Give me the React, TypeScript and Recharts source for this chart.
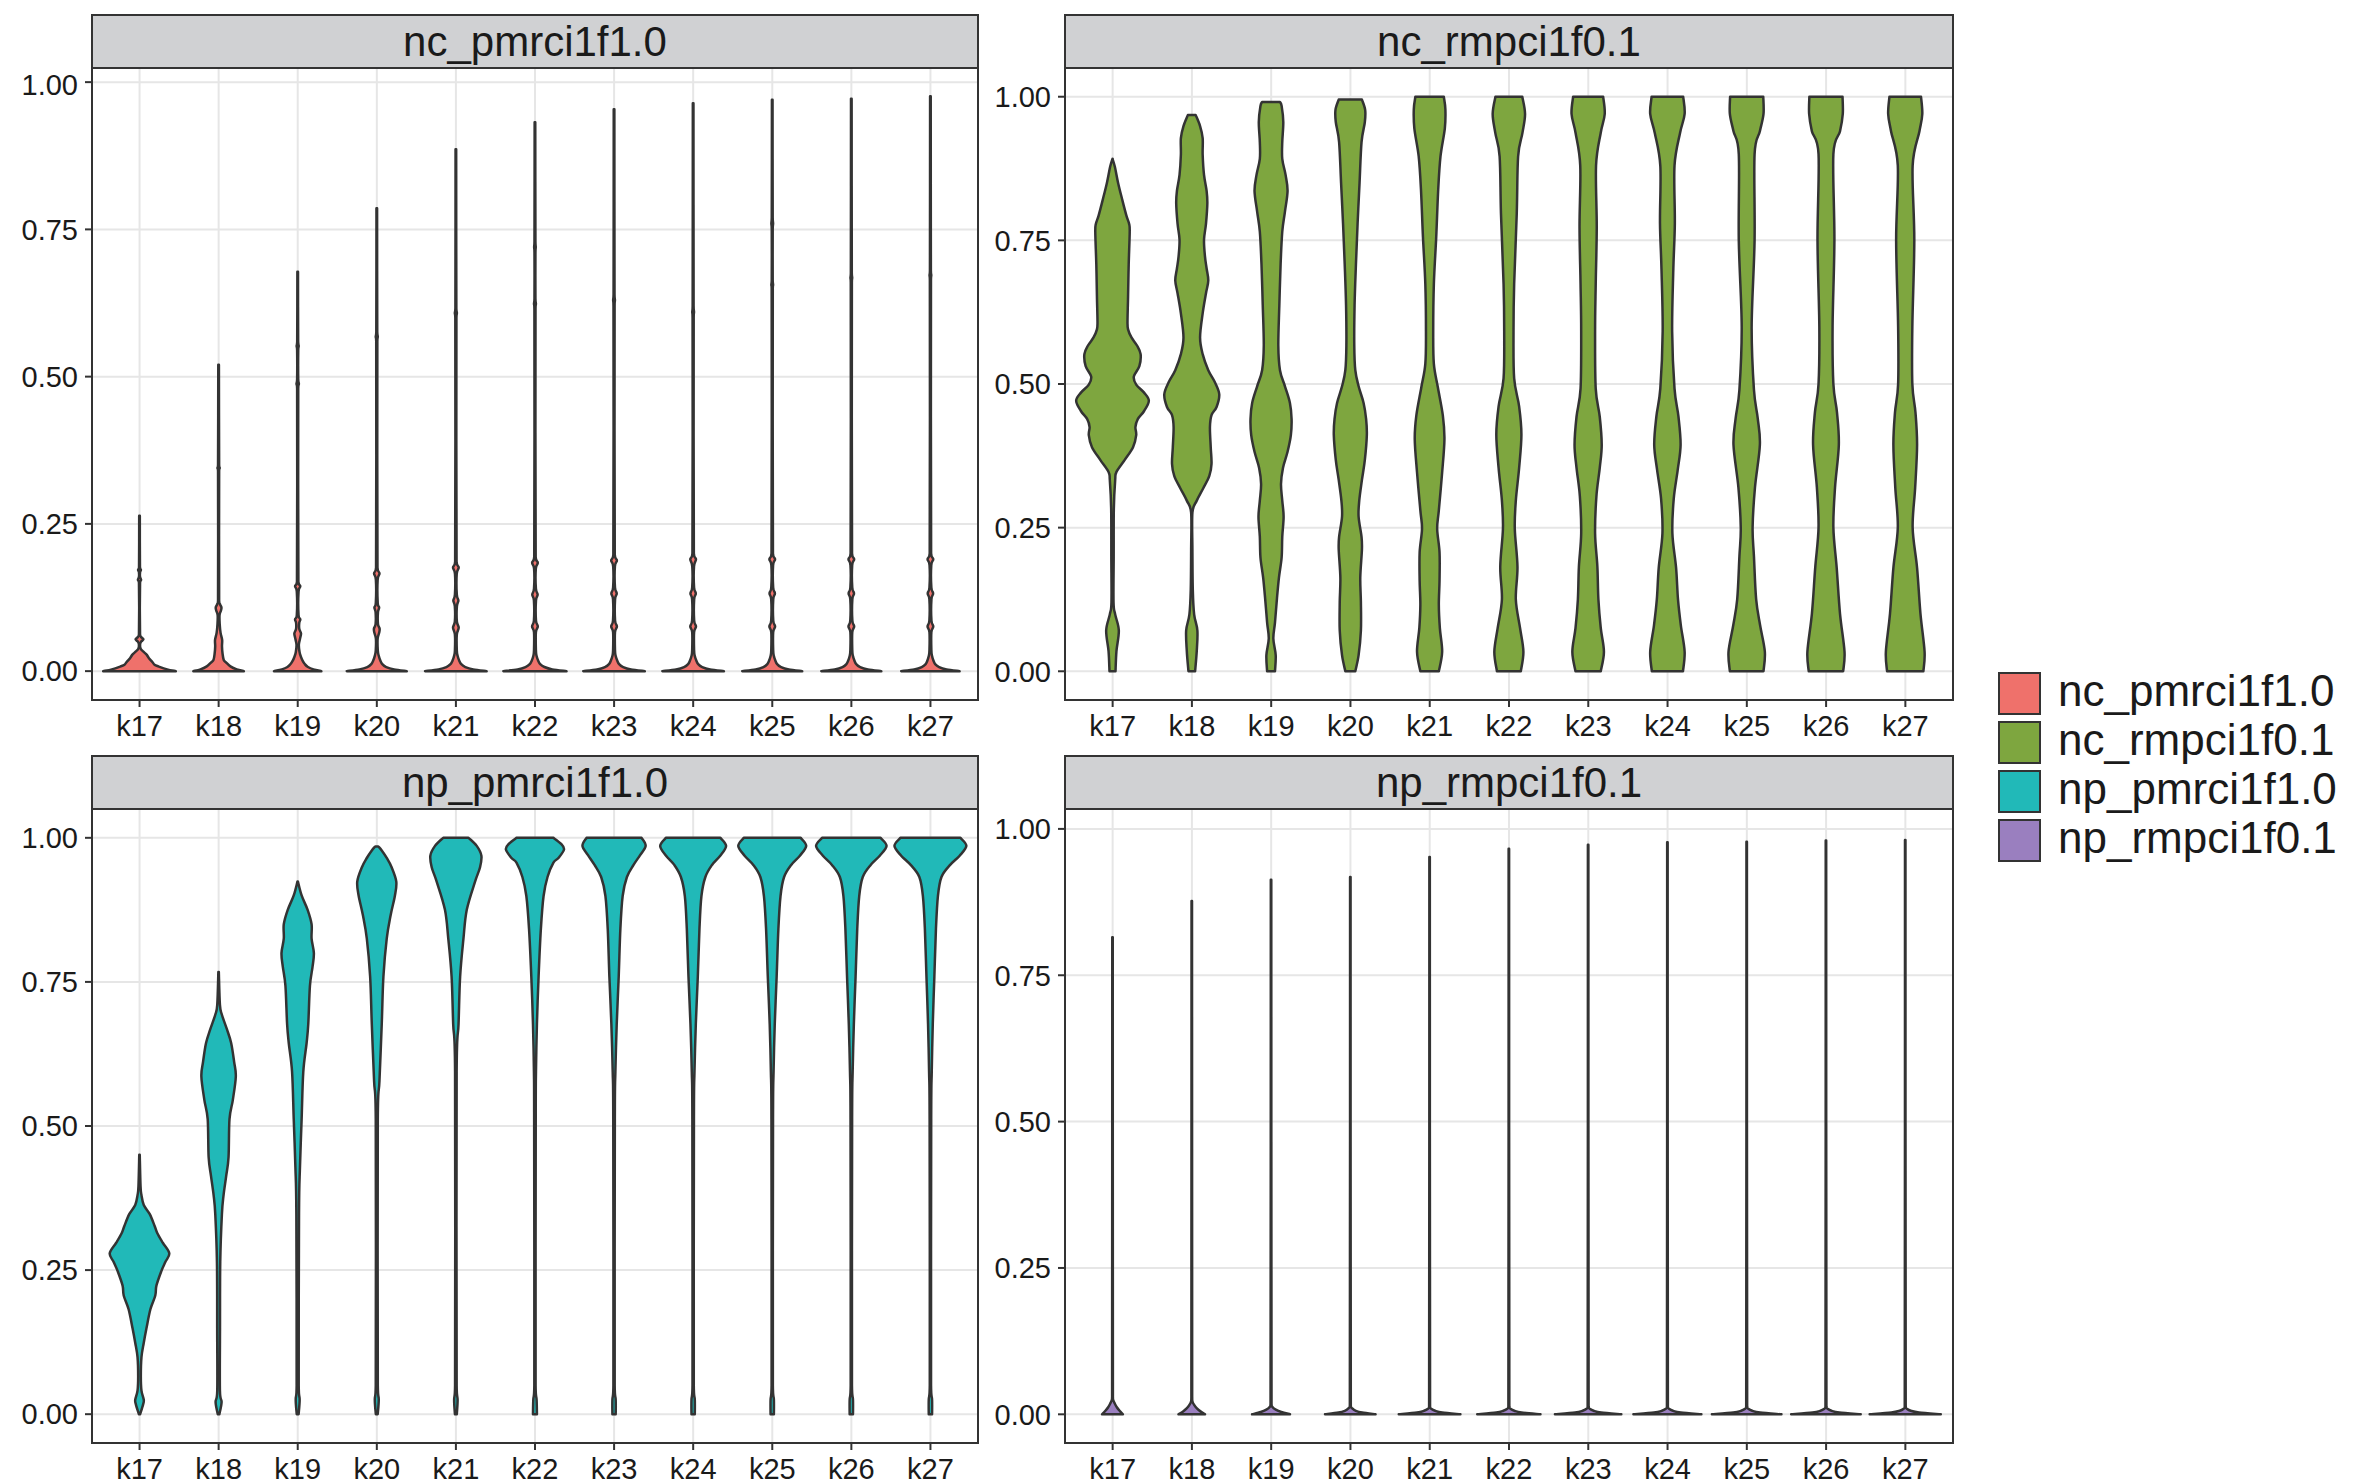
import React from 'react';
import { BarChart, Bar, XAxis, YAxis, CartesianGrid } from 'recharts';

type Profile = [number, number][];

const categories = ['k17', 'k18', 'k19', 'k20', 'k21', 'k22', 'k23', 'k24', 'k25', 'k26', 'k27'];
const yTicks = [0, 0.25, 0.5, 0.75, 1];
const minorTicks = [0.125, 0.375, 0.625, 0.875];
const panelTitles = ['nc_pmrci1f1.0', 'nc_rmpci1f0.1', 'np_pmrci1f1.0', 'np_rmpci1f0.1'];
const legendLabels = ['nc_pmrci1f1.0', 'nc_rmpci1f0.1', 'np_pmrci1f1.0', 'np_rmpci1f0.1'];

// density profiles: [value, half width in category units]
const ncPmrciProfiles: Profile[] = [
  [[0,0.46],[0.003,0.35],[0.008,0.24],[0.011,0.19],[0.016,0.16],[0.022,0.12],[0.028,0.09],[0.033,0.05],[0.038,0.015],[0.045,0.007],[0.05,0.02],[0.054,0.05],[0.058,0.02],[0.063,0.007],[0.15,0.007],[0.155,0.02],[0.16,0.007],[0.168,0.007],[0.172,0.018],[0.176,0.006],[0.264,0.004]],
  [[0,0.32],[0.003,0.23],[0.008,0.15],[0.014,0.1],[0.019,0.065],[0.03,0.05],[0.042,0.043],[0.053,0.045],[0.065,0.025],[0.08,0.014],[0.095,0.012],[0.103,0.03],[0.108,0.036],[0.113,0.02],[0.12,0.007],[0.34,0.007],[0.345,0.014],[0.35,0.007],[0.52,0.004]],
  [[0,0.3],[0.003,0.2],[0.007,0.13],[0.012,0.09],[0.018,0.062],[0.024,0.042],[0.032,0.024],[0.045,0.015],[0.057,0.033],[0.064,0.042],[0.072,0.02],[0.082,0.02],[0.088,0.033],[0.095,0.011],[0.135,0.011],[0.144,0.033],[0.152,0.009],[0.48,0.007],[0.488,0.015],[0.496,0.007],[0.545,0.007],[0.552,0.013],[0.56,0.006],[0.678,0.004]],
  [[0,0.38],[0.003,0.22],[0.007,0.12],[0.012,0.07],[0.018,0.045],[0.026,0.025],[0.035,0.013],[0.055,0.011],[0.065,0.03],[0.072,0.036],[0.08,0.015],[0.1,0.015],[0.108,0.03],[0.116,0.012],[0.155,0.011],[0.166,0.034],[0.176,0.009],[0.56,0.007],[0.568,0.013],[0.576,0.006],[0.786,0.004]],
  [[0,0.39],[0.003,0.22],[0.007,0.12],[0.012,0.068],[0.018,0.042],[0.026,0.022],[0.035,0.012],[0.062,0.012],[0.074,0.036],[0.084,0.013],[0.11,0.013],[0.12,0.032],[0.13,0.012],[0.165,0.011],[0.176,0.036],[0.186,0.009],[0.6,0.007],[0.608,0.013],[0.616,0.006],[0.886,0.004]],
  [[0,0.4],[0.003,0.22],[0.007,0.12],[0.012,0.066],[0.018,0.04],[0.026,0.02],[0.036,0.012],[0.066,0.012],[0.076,0.036],[0.086,0.013],[0.12,0.013],[0.13,0.034],[0.14,0.012],[0.174,0.011],[0.184,0.036],[0.194,0.009],[0.615,0.007],[0.624,0.012],[0.633,0.006],[0.71,0.006],[0.72,0.01],[0.73,0.006],[0.932,0.004]],
  [[0,0.39],[0.003,0.215],[0.007,0.115],[0.012,0.064],[0.018,0.04],[0.026,0.02],[0.036,0.012],[0.066,0.012],[0.076,0.036],[0.086,0.013],[0.122,0.013],[0.132,0.034],[0.142,0.012],[0.178,0.011],[0.188,0.036],[0.198,0.009],[0.62,0.007],[0.63,0.011],[0.64,0.006],[0.954,0.004]],
  [[0,0.39],[0.003,0.215],[0.007,0.115],[0.012,0.064],[0.018,0.04],[0.026,0.02],[0.036,0.012],[0.066,0.012],[0.076,0.036],[0.086,0.013],[0.122,0.013],[0.132,0.034],[0.142,0.012],[0.178,0.011],[0.19,0.036],[0.2,0.009],[0.6,0.007],[0.61,0.011],[0.62,0.006],[0.964,0.004]],
  [[0,0.38],[0.003,0.21],[0.007,0.112],[0.012,0.062],[0.018,0.039],[0.026,0.02],[0.036,0.012],[0.066,0.012],[0.076,0.036],[0.086,0.013],[0.122,0.013],[0.132,0.034],[0.142,0.012],[0.18,0.011],[0.19,0.036],[0.2,0.009],[0.65,0.007],[0.656,0.011],[0.664,0.006],[0.75,0.006],[0.76,0.011],[0.77,0.006],[0.97,0.004]],
  [[0,0.38],[0.003,0.21],[0.007,0.112],[0.012,0.062],[0.018,0.039],[0.026,0.02],[0.036,0.012],[0.066,0.012],[0.076,0.036],[0.086,0.013],[0.122,0.013],[0.132,0.034],[0.142,0.012],[0.18,0.011],[0.19,0.036],[0.2,0.009],[0.66,0.007],[0.668,0.011],[0.676,0.006],[0.972,0.004]],
  [[0,0.37],[0.003,0.205],[0.007,0.11],[0.012,0.06],[0.018,0.038],[0.026,0.02],[0.036,0.012],[0.066,0.012],[0.076,0.036],[0.086,0.013],[0.122,0.013],[0.132,0.034],[0.142,0.012],[0.18,0.011],[0.19,0.036],[0.2,0.009],[0.664,0.007],[0.672,0.011],[0.68,0.006],[0.976,0.004]],
];

const ncRmpciProfiles: Profile[] = [
  [[0,0.038],[0.035,0.05],[0.071,0.08],[0.099,0.034],[0.12,0.013],[0.2,0.015],[0.283,0.017],[0.333,0.034],[0.347,0.05],[0.368,0.155],[0.39,0.26],[0.411,0.3],[0.425,0.29],[0.439,0.32],[0.453,0.4],[0.471,0.46],[0.485,0.4],[0.499,0.3],[0.513,0.27],[0.531,0.34],[0.552,0.356],[0.567,0.31],[0.581,0.24],[0.595,0.197],[0.609,0.19],[0.652,0.197],[0.708,0.205],[0.765,0.218],[0.779,0.21],[0.793,0.176],[0.822,0.121],[0.85,0.071],[0.878,0.03],[0.892,0]],
  [[0,0.042],[0.035,0.063],[0.071,0.071],[0.099,0.03],[0.142,0.013],[0.212,0.008],[0.276,0.008],[0.297,0.063],[0.319,0.147],[0.34,0.222],[0.361,0.25],[0.39,0.24],[0.425,0.23],[0.446,0.25],[0.46,0.314],[0.482,0.348],[0.503,0.293],[0.524,0.209],[0.552,0.138],[0.581,0.105],[0.623,0.138],[0.658,0.18],[0.68,0.209],[0.701,0.188],[0.722,0.167],[0.751,0.155],[0.779,0.18],[0.814,0.197],[0.836,0.188],[0.864,0.155],[0.899,0.138],[0.928,0.138],[0.949,0.105],[0.968,0.05]],
  [[0,0.05],[0.028,0.059],[0.057,0.029],[0.085,0.05],[0.127,0.075],[0.163,0.1],[0.198,0.134],[0.234,0.142],[0.269,0.159],[0.297,0.142],[0.326,0.126],[0.354,0.151],[0.382,0.209],[0.411,0.251],[0.439,0.26],[0.467,0.239],[0.496,0.176],[0.524,0.113],[0.567,0.092],[0.637,0.105],[0.708,0.121],[0.765,0.142],[0.8,0.176],[0.836,0.209],[0.864,0.184],[0.892,0.142],[0.921,0.142],[0.956,0.155],[0.984,0.134],[0.991,0.113]],
  [[0,0.063],[0.028,0.105],[0.071,0.134],[0.12,0.134],[0.163,0.126],[0.212,0.147],[0.234,0.142],[0.269,0.105],[0.297,0.113],[0.333,0.147],[0.368,0.184],[0.411,0.209],[0.439,0.2],[0.467,0.168],[0.496,0.105],[0.524,0.063],[0.567,0.05],[0.637,0.054],[0.708,0.071],[0.779,0.092],[0.85,0.117],[0.921,0.142],[0.956,0.184],[0.977,0.188],[0.995,0.147]],
  [[0,0.117],[0.034,0.159],[0.075,0.13],[0.116,0.117],[0.158,0.126],[0.207,0.126],[0.248,0.096],[0.28,0.117],[0.346,0.159],[0.404,0.188],[0.445,0.168],[0.494,0.105],[0.535,0.054],[0.592,0.046],[0.674,0.054],[0.756,0.084],[0.838,0.109],[0.896,0.138],[0.945,0.193],[0.978,0.2],[1.0,0.18]],
  [[0,0.151],[0.034,0.184],[0.075,0.142],[0.125,0.088],[0.182,0.109],[0.248,0.075],[0.297,0.088],[0.354,0.13],[0.412,0.159],[0.461,0.13],[0.51,0.067],[0.592,0.059],[0.674,0.067],[0.797,0.1],[0.896,0.117],[0.937,0.172],[0.97,0.205],[1.0,0.17]],
  [[0,0.16],[0.034,0.2],[0.075,0.16],[0.125,0.13],[0.182,0.117],[0.24,0.088],[0.305,0.105],[0.354,0.147],[0.394,0.172],[0.443,0.147],[0.492,0.096],[0.592,0.088],[0.674,0.096],[0.773,0.109],[0.88,0.1],[0.937,0.159],[0.97,0.21],[1.0,0.19]],
  [[0,0.197],[0.034,0.218],[0.08,0.17],[0.125,0.134],[0.18,0.11],[0.24,0.063],[0.3,0.08],[0.35,0.13],[0.394,0.167],[0.443,0.14],[0.492,0.09],[0.592,0.06],[0.7,0.075],[0.78,0.094],[0.88,0.09],[0.937,0.16],[0.97,0.218],[1.0,0.2]],
  [[0,0.213],[0.034,0.23],[0.08,0.17],[0.125,0.12],[0.2,0.092],[0.25,0.075],[0.32,0.105],[0.394,0.167],[0.44,0.14],[0.49,0.092],[0.6,0.063],[0.75,0.1],[0.9,0.1],[0.94,0.167],[0.97,0.213],[1.0,0.21]],
  [[0,0.218],[0.034,0.235],[0.1,0.178],[0.18,0.136],[0.25,0.094],[0.32,0.115],[0.394,0.163],[0.45,0.14],[0.5,0.094],[0.6,0.084],[0.75,0.107],[0.9,0.094],[0.94,0.178],[0.97,0.213],[1.0,0.21]],
  [[0,0.23],[0.034,0.245],[0.1,0.193],[0.18,0.15],[0.25,0.094],[0.32,0.126],[0.394,0.15],[0.45,0.13],[0.5,0.09],[0.6,0.09],[0.75,0.115],[0.88,0.094],[0.94,0.18],[0.97,0.216],[1.0,0.2]],
];

const npPmrciProfiles: Profile[] = [
  [[0,0.008],[0.017,0.046],[0.025,0.054],[0.041,0.025],[0.066,0.017],[0.099,0.025],[0.124,0.054],[0.149,0.088],[0.182,0.138],[0.206,0.2],[0.223,0.214],[0.248,0.276],[0.264,0.327],[0.279,0.377],[0.297,0.297],[0.314,0.226],[0.326,0.193],[0.347,0.13],[0.363,0.054],[0.38,0.025],[0.396,0.013],[0.45,0.003]],
  [[0,0.01],[0.021,0.038],[0.041,0.017],[0.15,0.018],[0.264,0.021],[0.347,0.042],[0.38,0.063],[0.413,0.096],[0.446,0.126],[0.512,0.138],[0.545,0.18],[0.586,0.218],[0.611,0.197],[0.644,0.159],[0.668,0.105],[0.693,0.042],[0.71,0.017],[0.767,0.003]],
  [[0,0.012],[0.025,0.025],[0.05,0.013],[0.347,0.017],[0.429,0.029],[0.512,0.05],[0.594,0.071],[0.644,0.113],[0.677,0.134],[0.743,0.155],[0.776,0.188],[0.8,0.205],[0.825,0.176],[0.85,0.176],[0.875,0.126],[0.9,0.05],[0.924,0.003]],
  [[0,0.012],[0.025,0.025],[0.05,0.013],[0.512,0.013],[0.578,0.034],[0.677,0.063],[0.759,0.084],[0.825,0.126],[0.866,0.176],[0.9,0.23],[0.924,0.247],[0.949,0.188],[0.965,0.126],[0.978,0.063],[0.985,0.02]],
  [[0,0.012],[0.025,0.022],[0.05,0.01],[0.594,0.01],[0.677,0.034],[0.759,0.054],[0.825,0.096],[0.875,0.138],[0.924,0.243],[0.949,0.306],[0.969,0.323],[0.986,0.264],[1.0,0.16]],
  [[0,0.025],[0.025,0.021],[0.05,0.008],[0.512,0.01],[0.594,0.013],[0.677,0.025],[0.759,0.046],[0.842,0.075],[0.899,0.109],[0.932,0.159],[0.957,0.234],[0.965,0.297],[0.98,0.368],[0.99,0.327],[1.0,0.234]],
  [[0,0.021],[0.025,0.021],[0.05,0.008],[0.512,0.01],[0.594,0.017],[0.677,0.034],[0.759,0.059],[0.842,0.08],[0.899,0.109],[0.932,0.163],[0.953,0.247],[0.97,0.33],[0.986,0.4],[1.0,0.348]],
  [[0,0.021],[0.025,0.021],[0.05,0.008],[0.512,0.01],[0.594,0.017],[0.677,0.034],[0.759,0.059],[0.842,0.08],[0.899,0.105],[0.932,0.155],[0.953,0.239],[0.969,0.343],[0.986,0.417],[1.0,0.345]],
  [[0,0.021],[0.025,0.021],[0.05,0.008],[0.512,0.01],[0.594,0.017],[0.677,0.032],[0.759,0.056],[0.842,0.078],[0.899,0.105],[0.932,0.15],[0.953,0.24],[0.969,0.35],[0.986,0.43],[1.0,0.36]],
  [[0,0.021],[0.025,0.021],[0.05,0.008],[0.512,0.01],[0.594,0.017],[0.677,0.032],[0.759,0.054],[0.842,0.075],[0.899,0.1],[0.932,0.145],[0.953,0.245],[0.969,0.36],[0.986,0.446],[1.0,0.37]],
  [[0,0.021],[0.025,0.021],[0.05,0.008],[0.512,0.01],[0.594,0.017],[0.677,0.03],[0.759,0.05],[0.842,0.07],[0.899,0.095],[0.932,0.14],[0.953,0.25],[0.969,0.37],[0.986,0.455],[1.0,0.38]],
];

const npRmpciProfiles: Profile[] = [
  [[0,0.132],[0.006,0.09],[0.012,0.055],[0.018,0.03],[0.024,0.01],[0.03,0.005],[0.815,0.003]],
  [[0,0.168],[0.005,0.11],[0.01,0.065],[0.016,0.03],[0.022,0.009],[0.03,0.005],[0.877,0.003]],
  [[0,0.24],[0.004,0.13],[0.008,0.06],[0.012,0.02],[0.018,0.006],[0.913,0.003]],
  [[0,0.32],[0.003,0.15],[0.006,0.07],[0.01,0.025],[0.015,0.006],[0.918,0.003]],
  [[0,0.39],[0.003,0.16],[0.006,0.07],[0.009,0.025],[0.013,0.006],[0.952,0.003]],
  [[0,0.4],[0.003,0.16],[0.006,0.07],[0.009,0.025],[0.013,0.006],[0.966,0.003]],
  [[0,0.42],[0.003,0.165],[0.006,0.07],[0.009,0.025],[0.013,0.006],[0.973,0.003]],
  [[0,0.43],[0.003,0.17],[0.006,0.07],[0.009,0.025],[0.013,0.006],[0.977,0.003]],
  [[0,0.44],[0.003,0.17],[0.006,0.07],[0.009,0.025],[0.013,0.006],[0.978,0.003]],
  [[0,0.44],[0.003,0.17],[0.006,0.07],[0.009,0.025],[0.013,0.006],[0.98,0.003]],
  [[0,0.45],[0.003,0.175],[0.006,0.07],[0.009,0.025],[0.013,0.006],[0.981,0.003]],
];

const seriesColors = ['#ef716b', '#7ea63f', '#21b9b8', '#9a7fbf'];
const FONT = '"Liberation Sans", Arial, Helvetica, sans-serif';

function segs(pts: number[][], cx: number, side: number): string {
  let d = '';
  const n = pts.length;
  for (let i = 0; i < n - 1; i++) {
    const p0 = pts[i - 1] || pts[i];
    const p1 = pts[i];
    const p2 = pts[i + 1];
    const p3 = pts[i + 2] || p2;
    let c1x = p1[0] + (p2[0] - p0[0]) / 6;
    let c1y = p1[1] + (p2[1] - p0[1]) / 6;
    let c2x = p2[0] - (p3[0] - p1[0]) / 6;
    let c2y = p2[1] - (p3[1] - p1[1]) / 6;
    const lo = Math.min(p1[1], p2[1]);
    const hi = Math.max(p1[1], p2[1]);
    c1y = Math.min(hi, Math.max(lo, c1y));
    c2y = Math.min(hi, Math.max(lo, c2y));
    if (side > 0) { c1x = Math.max(cx, c1x); c2x = Math.max(cx, c2x); }
    else { c1x = Math.min(cx, c1x); c2x = Math.min(cx, c2x); }
    d += `C${c1x.toFixed(2)},${c1y.toFixed(2)} ${c2x.toFixed(2)},${c2y.toFixed(2)} ${p2[0].toFixed(2)},${p2[1].toFixed(2)}`;
  }
  return d;
}

function ViolinShape(props: any) {
  const { x, y, width, height, payload, fill } = props;
  if (!payload || x == null) return null;
  const profile: Profile = payload.profile;
  const lo = profile[0][0];
  const hi = profile[profile.length - 1][0];
  const yTop = Math.min(y, y + height);
  const yBot = Math.max(y, y + height);
  const cx = x + width / 2;
  const yOf = (v: number) => yBot - ((v - lo) / (hi - lo)) * (yBot - yTop);
  const right = profile.map(([v, h]) => [cx + h * width, yOf(v)]);
  const left = profile.slice().reverse().map(([v, h]) => [cx - h * width, yOf(v)]);
  const d = `M${right[0][0]},${right[0][1]}` + segs(right, cx, 1) + `L${left[0][0]},${left[0][1]}` + segs(left, cx, -1) + 'Z';
  return <path d={d} fill={fill} stroke="#333333" strokeWidth={2.5} strokeLinejoin="round" />;
}

const minorGenerator = (args: any) => {
  const axis = args && args.yAxis;
  const s = axis && axis.scale;
  if (typeof s !== 'function') return [];
  return minorTicks.map((t) => s(t));
};

interface PanelProps {
  profiles: Profile[];
  fill: string;
  domain: [number, number];
  plotLeft: number;
  plotTop: number;
  plotW: number;
  plotH: number;
  stripTop: number;
  title: string;
}

function Panel({ profiles, fill, domain, plotLeft, plotTop, plotW, plotH, stripTop, title }: PanelProps) {
  const data = categories.map((k, i) => ({
    k,
    range: [profiles[i][0][0], profiles[i][profiles[i].length - 1][0]],
    profile: profiles[i],
  }));
  const yAxisW = 92;
  return (
    <>
      <div style={{ position: 'absolute', left: plotLeft - yAxisW, top: plotTop }}>
        <BarChart
          width={yAxisW + plotW + 10}
          height={plotH + 50}
          data={data}
          margin={{ top: 0, right: 10, bottom: 0, left: 0 }}
          barCategoryGap={0}
          barGap={0}
        >
          <CartesianGrid
            vertical={false}
            stroke="#f0f0f0"
            strokeWidth={1.3}
            horizontalCoordinatesGenerator={minorGenerator}
          />
          <CartesianGrid stroke="#e6e6e6" strokeWidth={2} />
          <XAxis
            dataKey="k"
            type="category"
            interval={0}
            padding={{ left: 8, right: 8 }}
            height={50}
            axisLine={false}
            tickSize={7}
            tickMargin={8}
            tickLine={{ stroke: '#333333', strokeWidth: 2 }}
            tick={{ fontSize: 29, fill: '#1a1a1a', fontFamily: FONT }}
          />
          <YAxis
            type="number"
            domain={domain}
            allowDataOverflow
            ticks={yTicks}
            tickFormatter={(v: number) => v.toFixed(2)}
            width={yAxisW}
            axisLine={false}
            tickSize={7}
            tickMargin={7}
            tickLine={{ stroke: '#333333', strokeWidth: 2 }}
            tick={{ fontSize: 29, fill: '#1a1a1a', fontFamily: FONT }}
          />
          <Bar dataKey="range" fill={fill} shape={<ViolinShape />} isAnimationActive={false} />
        </BarChart>
      </div>
      <div
        style={{
          position: 'absolute',
          left: plotLeft - 1,
          top: plotTop - 1,
          width: plotW + 2,
          height: plotH + 2,
          border: '2px solid #333333',
          boxSizing: 'border-box',
          pointerEvents: 'none',
        }}
      />
      <div
        style={{
          position: 'absolute',
          left: plotLeft - 1,
          top: stripTop,
          width: plotW + 2,
          height: plotTop - stripTop + 1,
          border: '2px solid #333333',
          boxSizing: 'border-box',
          background: '#d0d1d3',
          display: 'flex',
          alignItems: 'center',
          justifyContent: 'center',
          fontFamily: FONT,
          fontSize: 42,
          color: '#1a1a1a',
        }}
      >
        {title}
      </div>
    </>
  );
}

export default function App() {
  return (
    <div
      style={{
        position: 'absolute',
        left: 0,
        top: 0,
        width: 2360,
        height: 1484,
        background: '#ffffff',
        overflow: 'hidden',
        fontFamily: FONT,
      }}
    >
      <Panel profiles={ncPmrciProfiles} fill={seriesColors[0]} domain={[-0.049, 1.024]} plotLeft={92} plotTop={68} plotW={886} plotH={632} stripTop={14} title={panelTitles[0]} />
      <Panel profiles={ncRmpciProfiles} fill={seriesColors[1]} domain={[-0.05, 1.05]} plotLeft={1065} plotTop={68} plotW={888} plotH={632} stripTop={14} title={panelTitles[1]} />
      <Panel profiles={npPmrciProfiles} fill={seriesColors[2]} domain={[-0.05, 1.05]} plotLeft={92} plotTop={809} plotW={886} plotH={634} stripTop={755} title={panelTitles[2]} />
      <Panel profiles={npRmpciProfiles} fill={seriesColors[3]} domain={[-0.049, 1.034]} plotLeft={1065} plotTop={809} plotW={888} plotH={634} stripTop={755} title={panelTitles[3]} />
      {legendLabels.map((label, i) => (
        <React.Fragment key={label}>
          <div
            style={{
              position: 'absolute',
              left: 1998,
              top: 672 + i * 49,
              width: 43,
              height: 43,
              background: seriesColors[i],
              border: '2px solid #333333',
              boxSizing: 'border-box',
            }}
          />
          <div
            style={{
              position: 'absolute',
              left: 2058,
              top: 669 + i * 49,
              height: 43,
              lineHeight: '43px',
              fontSize: 44,
              color: '#1a1a1a',
              fontFamily: FONT,
              whiteSpace: 'nowrap',
            }}
          >
            {label}
          </div>
        </React.Fragment>
      ))}
    </div>
  );
}
